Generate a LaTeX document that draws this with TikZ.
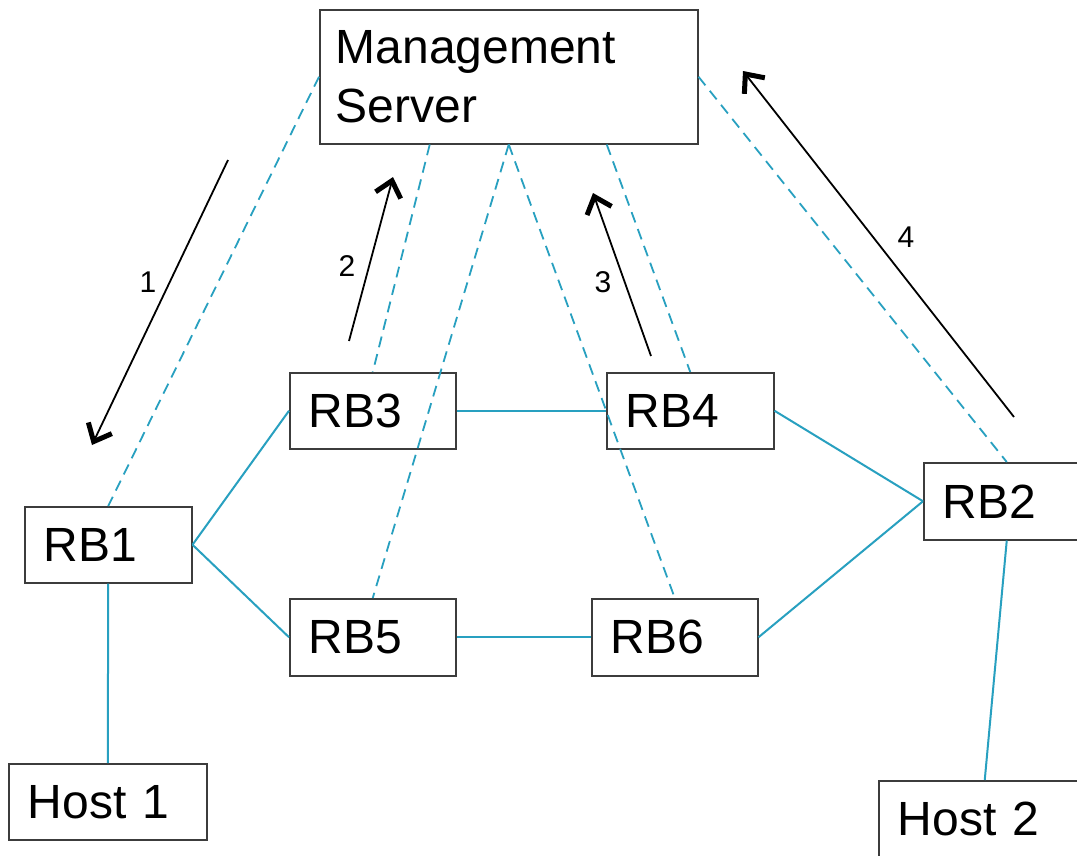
\documentclass[tikz,border=0pt]{standalone}
\usepackage{fontspec}
\setmainfont{Liberation Sans}
\usetikzlibrary{arrows.meta}
\definecolor{teal1}{RGB}{40,160,192}
\definecolor{boxgray}{RGB}{60,60,60}
\tikzset{
  box/.style={draw=boxgray, line width=1.5pt, rectangle, anchor=north west,
    inner xsep=19pt, inner ysep=0pt, align=left,
    font=\fontsize{48}{58}\selectfont},
  link/.style={draw=teal1, line width=2pt},
  mgmt/.style={draw=teal1, line width=1.8pt, dash pattern=on 11pt off 7pt},
  msg/.style={draw=black, line width=1.8pt,
    -{Straight Barb[length=15pt, width=26pt, line width=5pt]}},
  num/.style={font=\fontsize{30}{34}\selectfont, inner sep=0pt}
}
\begin{document}
\begin{tikzpicture}[x=1pt, y=-1pt]
\path[use as bounding box] (0,0) rectangle (1077,855);
\clip (0,0) rectangle (1077,855);
\fill[white] (0,0) rectangle (1077,855);

% nodes
\node[box, text width=346pt, minimum height=134pt, inner xsep=16pt,
      font=\fontsize{48}{59}\selectfont] (MS) at (319,9) {Management\\Server};
\node[box, text width=128pt, minimum height=76pt] (RB3) at (289,372) {RB3};
\node[box, text width=129pt, minimum height=76pt] (RB4) at (606,372) {RB4};
\node[box, text width=129pt, minimum height=76pt] (RB1) at (24,506) {RB1};
\node[box, text width=128pt, minimum height=77pt] (RB5) at (289,598) {RB5};
\node[box, text width=128pt, minimum height=77pt] (RB6) at (591,598) {RB6};
\node[box, text width=128pt, minimum height=77pt] (RB2) at (923,462) {RB2};
\node[box, text width=160pt, minimum height=76pt] (H1) at (8,763) {Host 1};
\node[box, text width=174pt, minimum height=76pt] (H2) at (878,780) {Host 2};

% attachment points on the management server
\coordinate (msA) at ([xshift=-79pt]MS.south);
\coordinate (msB) at ([xshift=98pt]MS.south);

% data links
\draw[link] (RB1.east) -- (RB3.west);
\draw[link] (RB1.east) -- (RB5.west);
\draw[link] (RB3.east) -- (RB4.west);
\draw[link] (RB5.east) -- (RB6.west);
\draw[link] (RB4.east) -- (RB2.west);
\draw[link] (RB6.east) -- (RB2.west);
\draw[link] (RB1.south) -- (H1.north);
\draw[link] (RB2.south) -- (H2.north);

% management links
\draw[mgmt] (MS.west) -- (RB1.north);
\draw[mgmt] (msA) -- (RB3.north);
\draw[mgmt] (MS.south) -- (RB5.north);
\draw[mgmt] (MS.south) -- (RB6.north);
\draw[mgmt] (msB) -- (RB4.north);
\draw[mgmt] (MS.east) -- (RB2.north);

% message arrows
\coordinate (a1s) at (228,160); \coordinate (a1e) at (92,445);
\coordinate (a2s) at (349,341); \coordinate (a2e) at (393,177);
\coordinate (a3s) at (651,356); \coordinate (a3e) at (593,193);
\coordinate (a4s) at (1014,417); \coordinate (a4e) at (743,71);
\draw[msg] (a1s) -- (a1e);
\draw[msg] (a2s) -- (a2e);
\draw[msg] (a3s) -- (a3e);
\draw[msg] (a4s) -- (a4e);

\node[num] (n1) at (148,282) {1};
\node[num] (n2) at (347,266) {2};
\node[num] (n3) at (603,282) {3};
\node[num] (n4) at (906,237) {4};
\end{tikzpicture}
\end{document}
